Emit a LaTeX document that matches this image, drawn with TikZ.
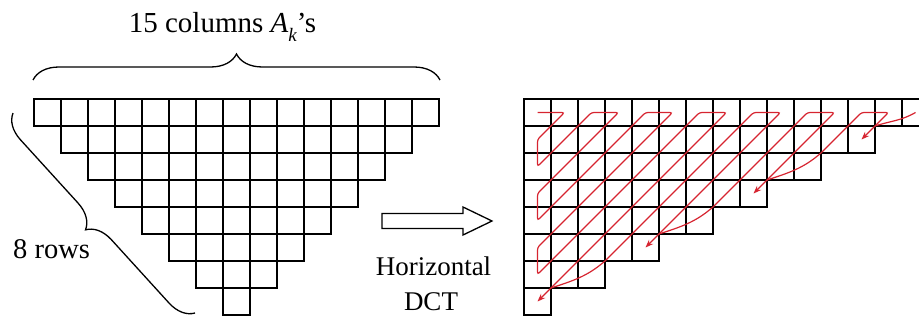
\documentclass[tikz,border=0pt]{standalone}
\usepackage{fontspec}
\setmainfont{Liberation Serif}
\usetikzlibrary{decorations.pathreplacing,arrows.meta,calc}
\definecolor{scanred}{RGB}{214,36,48}
\tikzset{
  gridline/.style={draw=black, line width=1.6pt},
  scan/.style={draw=scanred, line width=1.2pt, rounded corners=2.5pt},
  scanend/.style={scan, -{Stealth[length=8pt,width=6pt]}},
  bracemark/.style={decorate, decoration={brace, amplitude=#1}, line width=1.3pt},
  caption/.style={font=\fontsize{27}{32}\selectfont, inner sep=0pt},
}
\begin{document}
\begin{tikzpicture}[x=1pt,y=1pt]
\useasboundingbox (0,0) rectangle (919,-321);
\clip (0,0) rectangle (919,-321);
\def\cw{27}
\def\ch{27}

% inverted pyramid of coefficients (left) and the left-aligned staircase (right);
% row r holds 15-2r cells
\foreach \r in {0,...,7}{
  \pgfmathtruncatemacro{\last}{14-2*\r}
  \foreach \c in {0,...,\last}{
    \draw[gridline] ({34+(\r+\c)*\cw},{-99-\r*\ch}) rectangle ++(\cw,-\ch);
    \draw[gridline] ({524+\c*\cw},{-99-\r*\ch}) rectangle ++(\cw,-\ch);
    \coordinate (p-\r-\c) at ({524+(\c+0.5)*\cw},{-99-(\r+0.5)*\ch});
  }
}

% braces and their labels
\coordinate (topL) at (33,-80);
\coordinate (topR) at (440,-80);
\draw[bracemark=26pt] (topL) -- (topR);
\node[caption, font=\fontsize{29}{34}\selectfont, anchor=base] (cols) at (222.5,-33)
  {15 columns \textit{A}\raisebox{-0.28em}{\fontsize{19}{21}\selectfont\itshape k}’s};

\coordinate (sideB) at (195,-313);
\coordinate (sideT) at (13,-113);
\draw[bracemark=25pt] (sideB) -- (sideT);
\node[caption, font=\fontsize{28.5}{34}\selectfont, anchor=base west] (rows) at (13,-258) {8 rows};

% hollow arrow with its caption
\draw[gridline, line width=1.3pt, fill=white]
  (382,-213.5) -- (463,-213.5) -- (463,-207) -- (492,-221) -- (463,-235)
  -- (463,-228.5) -- (382,-228.5) -- cycle;
\node[caption, anchor=base] (hor) at (433.5,-275) {Horizontal};
\node[caption, anchor=base] (dct) at (431,-310) {DCT};

% zigzag scan over the staircase
\draw[scanend] (p-0-0) -- (p-0-1) -- (p-1-0) -- (p-2-0) -- (p-0-2) -- (p-0-3)
  -- (p-3-0) -- (p-4-0) -- (p-0-4) -- (p-0-5) -- (p-5-0) -- (p-6-0)
  -- (p-0-6) -- (p-0-7) -- (p-7-0);
\draw[scanend] ($(p-7-0)!.5!(p-6-1)$) to[out=18,in=220] ($(p-6-2)!.5!(p-5-3)$)
  -- (p-0-8) -- (p-0-9) -- (p-5-4);
\draw[scanend] ($(p-5-4)!.5!(p-4-5)$) to[out=18,in=220] ($(p-4-6)!.5!(p-3-7)$)
  -- (p-0-10) -- (p-0-11) -- (p-3-8);
\draw[scanend] ($(p-3-8)!.5!(p-2-9)$) to[out=18,in=220] ($(p-2-10)!.5!(p-1-11)$)
  -- (p-0-12) -- (p-0-13) -- (p-1-12);
\draw[scan] ($(p-1-12)!.5!(p-0-13)$) to[out=18,in=210] (p-0-14);
\end{tikzpicture}
\end{document}
